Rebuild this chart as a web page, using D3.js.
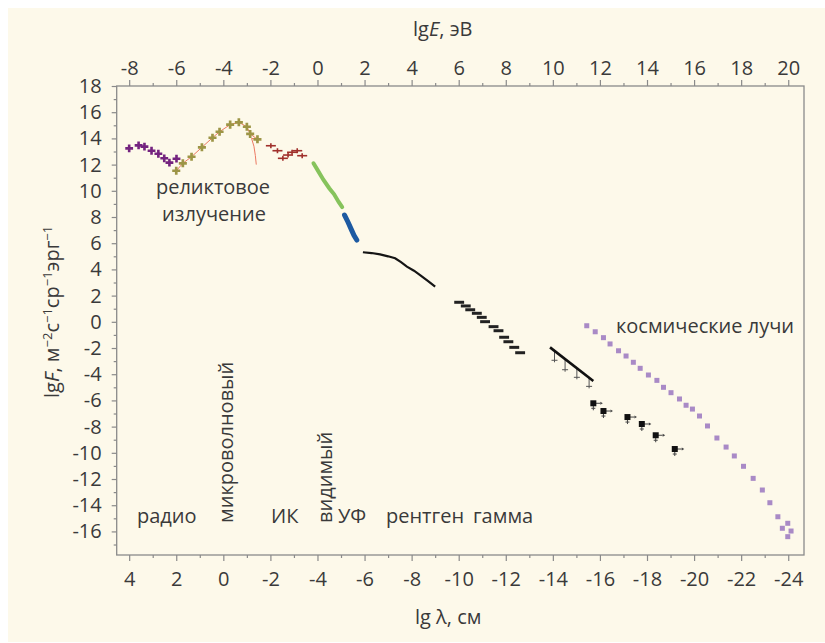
<!DOCTYPE html>
<html lang="ru">
<head>
<meta charset="UTF-8">
<title>Спектр излучения</title>
<script src="https://d3js.org/d3.v7.min.js"></script>
<style>
  body { margin: 0; background: #fff; }
  text { font-family: "Open Sans", "DejaVu Sans", sans-serif; fill: #3a3a3a; }
  .tick line { stroke: #8a8a8a; stroke-width: 1.2px; }
  .tick text { font-size: 20px; fill: #3a3a3a; }
  .lbl { font-size: 20px; }
</style>
</head>
<body>
<svg width="825" height="643"></svg>
<script>
// lgλ (см), lgF
const radio = [[4.0,13.24],[3.60,13.47],[3.35,13.37],[3.05,13.06],[2.76,12.83],[2.51,12.48],[2.29,12.15],[1.99,12.45]];
const cmb = [[2.0,11.53],[1.72,12.10],[1.35,12.60],[0.91,13.32],[0.46,14.05],[0.16,14.51],[-0.29,15.05],[-0.66,15.23],[-1.0,14.89],[-1.14,14.34],[-1.45,13.93]];
const cmbTail = [[-1.14,14.34],[-1.2,14.0],[-1.3,13.4],[-1.36,12.7],[-1.4,12.0]];
const infrared = [[-2.02,13.44],[-2.30,13.06],[-2.53,12.48],[-2.75,12.73],[-2.92,12.94],[-3.14,13.06],[-3.35,12.68]];
const visible = [[-3.83,12.1],[-4.0,11.6],[-4.25,10.85],[-4.5,10.2],[-4.7,9.75],[-4.9,9.15],[-5.05,8.75]];
const ultraviolet = [[-5.15,8.15],[-5.3,7.6],[-5.45,7.0],[-5.55,6.6],[-5.67,6.24]];
const xray = [[-5.93,5.31],[-6.3,5.25],[-6.66,5.15],[-7.0,5.0],[-7.3,4.85],[-7.55,4.55],[-7.8,4.21],[-8.1,3.9],[-8.36,3.57],[-8.7,3.1],[-9.0,2.68]];
// горизонтальные отрезки: [lgλ от, lgλ до, lgF]
const xrayBins = [[-9.81,-10.23,1.49],[-10.09,-10.51,1.21],[-10.28,-10.70,0.92],[-10.56,-10.98,0.65],[-10.77,-11.19,0.34],[-10.91,-11.33,0.01],
                  [-11.27,-11.69,-0.37],[-11.48,-11.90,-0.68],[-11.72,-12.14,-1.18],[-11.90,-12.32,-1.52],[-12.15,-12.57,-1.95],[-12.40,-12.82,-2.36]];
const gammaLine = [[-13.88,-1.95],[-15.72,-4.52]];
// [lgλ, lgF на линии, нижняя граница]
const gammaErr = [[-14.07,-2.22,-3.09],[-14.52,-2.84,-3.81],[-15.02,-3.54,-4.39],[-15.54,-4.27,-5.08]];
const gammaSquares = [[-15.72,-6.22],[-16.15,-6.81],[-17.17,-7.27],[-17.78,-7.80],[-18.37,-8.66],[-19.18,-9.71]];
const cosmic = [[-15.44,-0.30],[-15.80,-0.76],[-16.15,-1.21],[-16.43,-1.69],[-16.79,-2.21],[-17.11,-2.61],[-17.42,-3.09],[-17.71,-3.55],
                [-18.06,-4.06],[-18.42,-4.47],[-18.70,-5.00],[-19.02,-5.41],[-19.38,-5.89],[-19.66,-6.37],[-19.93,-6.66],[-20.23,-7.19],
                [-20.57,-7.95],[-20.97,-8.87],[-21.36,-9.56],[-21.71,-10.24],[-22.10,-11.03],[-22.51,-11.95],[-22.90,-12.84],[-23.22,-13.81],
                [-23.56,-14.88],[-23.75,-15.76],[-23.98,-15.38],[-24.12,-15.97],[-23.98,-16.40]];

const lambdaTicks = d3.range(4, -25, -2);
const lambdaMinor = d3.range(3, -24, -2);
const energyTicks = d3.range(-8, 21, 2);
const energyMinor = d3.range(-7, 20, 2);
const fluxTicks = d3.range(-16, 19, 2);
const fluxMinor = d3.range(-17, 18, 2);

const svg = d3.select("svg");
const pLeft = 116.7, pRight = 804, pTop = 86, pBottom = 555;

const x = d3.scaleLinear().domain([4.53, -24.67]).range([pLeft, pRight]);
const xE = d3.scaleLinear().domain([-4 - 4.53, -4 + 24.67]).range([pLeft, pRight]);
const y = d3.scaleLinear().domain([-17.8, 18]).range([pBottom, pTop]);

// фон
svg.append("rect").attr("x", 8).attr("y", 8).attr("width", 817).attr("height", 634).attr("fill", "#fdf9ea");
svg.append("rect").attr("x", pLeft).attr("y", pTop).attr("width", pRight - pLeft).attr("height", pBottom - pTop)
  .attr("fill", "none").attr("stroke", "#8a8a8a").attr("stroke-width", 1.3);

// оси
function axisG(axis, tx, ty) {
  const g = svg.append("g").attr("transform", `translate(${tx},${ty})`).call(axis);
  g.select(".domain").remove();
  return g;
}
const fmt = d => String(d);
axisG(d3.axisBottom(x).tickValues(lambdaTicks).tickSize(6).tickPadding(11).tickFormat(fmt), 0, pBottom);
axisG(d3.axisBottom(x).tickValues(lambdaMinor).tickSize(3).tickFormat(""), 0, pBottom);
axisG(d3.axisTop(xE).tickValues(energyTicks).tickSize(6).tickPadding(5).tickFormat(fmt), 0, pTop);
axisG(d3.axisTop(xE).tickValues(energyMinor).tickSize(3).tickFormat(""), 0, pTop);
axisG(d3.axisLeft(y).tickValues(fluxTicks).tickSize(5).tickPadding(10).tickFormat(fmt), pLeft, 0);
axisG(d3.axisLeft(y).tickValues(fluxMinor).tickSize(3).tickFormat(""), pLeft, 0);

// заголовки осей
const tTop = svg.append("text").attr("class", "lbl").attr("x", 413).attr("y", 36);
tTop.append("tspan").text("lg");
tTop.append("tspan").attr("font-style", "italic").text("E");
tTop.append("tspan").text(", эВ");

svg.append("text").attr("class", "lbl").attr("x", 415).attr("y", 624).text("lg λ, см");

const tLeft = svg.append("text").attr("class", "lbl")
  .attr("transform", "translate(59,398) rotate(-90)");
tLeft.append("tspan").text("lg");
tLeft.append("tspan").attr("font-style", "italic").text("F");
const yParts = [[", м", "−2"], ["с", "−1"], ["ср", "−1"], ["эрг", "−1"]];
yParts.forEach((p, i) => {
  tLeft.append("tspan").attr("dy", i === 0 ? 0 : 7).text(p[0]);
  tLeft.append("tspan").attr("dy", -7).attr("font-size", 13).text(p[1]);
});

const line = d3.line().x(d => x(d[0])).y(d => y(d[1]));

// радио
svg.append("g").selectAll("path").data(radio).join("path")
  .attr("d", d3.symbol(d3.symbolCross, 34))
  .attr("transform", d => `translate(${x(d[0])},${y(d[1])})`)
  .attr("fill", "#74237f");

// реликтовое
svg.append("path").datum(cmb.concat(cmbTail.slice(1))).attr("d", line)
  .attr("fill", "none").attr("stroke", "#ec7a63").attr("stroke-width", 1);
svg.append("g").selectAll("path").data(cmb).join("path")
  .attr("d", d3.symbol(d3.symbolCross, 36))
  .attr("transform", d => `translate(${x(d[0])},${y(d[1])})`)
  .attr("fill", "#9d9546");

// ИК
const ir = svg.append("g").attr("stroke", "#a0302c").attr("stroke-width", 1.6);
ir.selectAll("line.h").data(infrared).join("line").attr("class", "h")
  .attr("x1", d => x(d[0]) - 5).attr("x2", d => x(d[0]) + 5)
  .attr("y1", d => y(d[1])).attr("y2", d => y(d[1]));
ir.selectAll("line.v").data(infrared).join("line").attr("class", "v")
  .attr("x1", d => x(d[0])).attr("x2", d => x(d[0]))
  .attr("y1", d => y(d[1]) - 2.5).attr("y2", d => y(d[1]) + 2.5);

// видимый, УФ, рентген
svg.append("path").datum(visible).attr("d", line).attr("fill", "none")
  .attr("stroke", "#86c35c").attr("stroke-width", 4).attr("stroke-linecap", "round");
svg.append("path").datum(ultraviolet).attr("d", line).attr("fill", "none")
  .attr("stroke", "#1d5aa2").attr("stroke-width", 5).attr("stroke-linecap", "round");
svg.append("path").datum(xray).attr("d", line).attr("fill", "none")
  .attr("stroke", "#151515").attr("stroke-width", 2.2);

svg.append("g").selectAll("line").data(xrayBins).join("line")
  .attr("x1", d => x(d[0])).attr("x2", d => x(d[1]))
  .attr("y1", d => y(d[2])).attr("y2", d => y(d[2]))
  .attr("stroke", "#222").attr("stroke-width", 3);

// гамма
const ge = svg.append("g").attr("stroke", "#555").attr("stroke-width", 1);
ge.selectAll("line.v").data(gammaErr).join("line").attr("class", "v")
  .attr("x1", d => x(d[0])).attr("x2", d => x(d[0]))
  .attr("y1", d => y(d[1])).attr("y2", d => y(d[2]));
ge.selectAll("line.h").data(gammaErr).join("line").attr("class", "h")
  .attr("x1", d => x(d[0]) - 3).attr("x2", d => x(d[0]) + 3)
  .attr("y1", d => y(d[2]) - 2).attr("y2", d => y(d[2]) - 2);
svg.append("path").datum(gammaLine).attr("d", line).attr("fill", "none")
  .attr("stroke", "#111").attr("stroke-width", 2.6);

const gs = svg.append("g").selectAll("g").data(gammaSquares).join("g")
  .attr("transform", d => `translate(${x(d[0])},${y(d[1])})`);
gs.append("line").attr("x1", 0).attr("x2", 0).attr("y1", 0).attr("y2", 7)
  .attr("stroke", "#444").attr("stroke-width", 1);
gs.append("line").attr("x1", -2).attr("x2", 2).attr("y1", 5).attr("y2", 5)
  .attr("stroke", "#444").attr("stroke-width", 1);
gs.append("line").attr("x1", 0).attr("x2", 7).attr("y1", 0).attr("y2", 0)
  .attr("stroke", "#444").attr("stroke-width", 1);
gs.append("path").attr("d", "M7,-1.5L9.5,0L7,1.5Z").attr("fill", "#444");
gs.append("rect").attr("x", -3).attr("y", -3).attr("width", 6).attr("height", 6).attr("fill", "#111");

// космические лучи
svg.append("g").selectAll("rect").data(cosmic).join("rect")
  .attr("x", d => x(d[0]) - 2.5).attr("y", d => y(d[1]) - 2.5)
  .attr("width", 5).attr("height", 5).attr("fill", "#a98ac6");

// подписи
const relict = svg.append("text").attr("class", "lbl").attr("font-size", 19).attr("text-anchor", "middle");
relict.append("tspan").attr("x", 213).attr("y", 194).text("реликтовое");
relict.append("tspan").attr("x", 214).attr("dy", 26.5).text("излучение");
svg.append("text").attr("class", "lbl").attr("x", 616).attr("y", 333).text("космические лучи");

const bandLabels = [["радио", 137], ["ИК", 271], ["УФ", 338], ["рентген", 386], ["гамма", 473]];
svg.append("g").selectAll("text").data(bandLabels).join("text")
  .attr("class", "lbl").attr("x", d => d[1]).attr("y", 523).text(d => d[0]);

const vertLabels = [["микроволновый", 233], ["видимый", 332]];
svg.append("g").selectAll("text").data(vertLabels).join("text")
  .attr("class", "lbl").attr("transform", d => `translate(${d[1]},523) rotate(-90)`).text(d => d[0]);
</script>
</body>
</html>
